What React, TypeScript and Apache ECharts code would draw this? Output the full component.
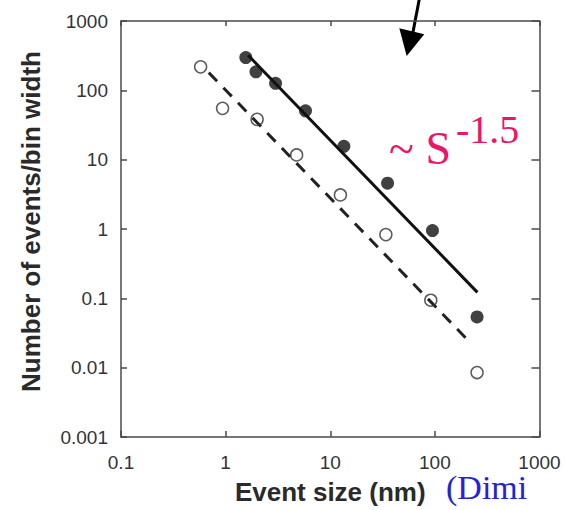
import React, { useEffect, useRef } from "react";
import * as echarts from "echarts";

// Tick labels
const xTickLabels = ["0.1", "1", "10", "100", "1000"];
const yTickLabels = ["0.001", "0.01", "0.1", "1", "10", "100", "1000"];

// Filled circles (event size nm, events/bin width)
const filledSize = [1.56, 1.95, 3.0, 5.8, 13.5, 35.3, 94.8, 253];
const filledCount = [297, 185, 126, 50.7, 15.6, 4.57, 0.95, 0.054];

// Open circles
const openSize = [0.577, 0.935, 2.0, 4.77, 12.5, 34.0, 91.4, 253];
const openCount = [218, 55, 38.1, 11.7, 3.1, 0.83, 0.094, 0.0085];

// Power-law fit lines (end points)
const solidFitSize = [1.64, 255];
const solidFitCount = [321, 0.122];
const dashedFitSize = [0.69, 212];
const dashedFitCount = [180, 0.024];

const pairs = (xs: number[], ys: number[]) => xs.map((x, i) => [x, ys[i]]);

const labelFor = (labels: string[], minExp: number) => (v: number) => {
  const i = Math.round(Math.log10(v)) - minExp;
  return labels[i] ?? "";
};

export default function App() {
  const ref = useRef<HTMLDivElement>(null);

  useEffect(() => {
    if (!ref.current) return;
    const chart = echarts.init(ref.current, null, { renderer: "svg" });
    const axisColor = "#4a4a4a";
    const tickFont = {
      fontFamily: "'Liberation Sans', Arial, sans-serif",
      fontSize: 19,
      color: "#333",
    };
    const nameFont = {
      fontFamily: "'Liberation Sans', Arial, sans-serif",
      fontSize: 26,
      fontWeight: "bold" as const,
      color: "#2a2a2a",
    };
    const commonAxis = {
      type: "log" as const,
      logBase: 10,
      axisLine: { show: true, lineStyle: { color: axisColor, width: 1.5 } },
      axisTick: { show: true, inside: true, length: 6, lineStyle: { color: axisColor, width: 1.5 } },
      splitLine: { show: false },
      minorTick: { show: false },
    };
    chart.setOption({
      animation: false,
      backgroundColor: "#fff",
      grid: { left: 121, top: 21, width: 418.5, height: 417, containLabel: false },
      xAxis: [
        {
          ...commonAxis,
          min: 0.1,
          max: 1000,
          position: "bottom",
          axisLabel: { ...tickFont, margin: 16, formatter: labelFor(xTickLabels, -1) },
          name: "Event size (nm)",
          nameLocation: "middle",
          nameGap: 42,
          nameTextStyle: nameFont,
        },
        {
          ...commonAxis,
          min: 0.1,
          max: 1000,
          position: "top",
          axisLabel: { show: false },
          axisTick: { ...commonAxis.axisTick, length: 5 },
        },
      ],
      yAxis: [
        {
          ...commonAxis,
          min: 0.001,
          max: 1000,
          position: "left",
          axisLabel: { ...tickFont, margin: 13, formatter: labelFor(yTickLabels, -3) },
          name: "Number of events/bin width",
          nameLocation: "middle",
          nameGap: 77,
          nameTextStyle: { ...nameFont, padding: [0, 0, 0, 15] },
        },
        {
          ...commonAxis,
          min: 0.001,
          max: 1000,
          position: "right",
          axisLabel: { show: false },
          axisTick: { ...commonAxis.axisTick, length: 8 },
        },
      ],
      series: [
        {
          type: "line",
          data: pairs(solidFitSize, solidFitCount),
          symbol: "none",
          lineStyle: { color: "#111", width: 3 },
          z: 3,
        },
        {
          type: "line",
          data: pairs(dashedFitSize, dashedFitCount),
          symbol: "none",
          lineStyle: { color: "#222", width: 3, type: [12, 9] },
          z: 3,
        },
        {
          type: "scatter",
          data: pairs(filledSize, filledCount),
          symbol: "circle",
          symbolSize: 13,
          itemStyle: { color: "#111" },
          z: 4,
        },
        {
          type: "scatter",
          data: pairs(openSize, openCount),
          symbol: "circle",
          symbolSize: 12,
          itemStyle: { color: "rgba(255,255,255,0)", borderColor: "#333", borderWidth: 1.5 },
          z: 4,
        },
      ],
      graphic: [
        {
          type: "line",
          shape: { x1: 419.5, y1: -2, x2: 413, y2: 32 },
          style: { stroke: "#000", lineWidth: 3 },
        },
        {
          type: "polygon",
          shape: { points: [[399.3, 28.3], [424.3, 34.3], [406.7, 56]] },
          style: { fill: "#000" },
        },
        {
          type: "text",
          x: 389,
          y: 148.5,
          style: {
            text: "~ S",
            fontFamily: "'Liberation Serif', 'Times New Roman', serif",
            fontSize: 46,
            fill: "#EE1466",
            align: "left",
            verticalAlign: "middle",
          },
        },
        {
          type: "text",
          x: 456,
          y: 129.8,
          style: {
            text: "-1.5",
            fontFamily: "'Liberation Serif', 'Times New Roman', serif",
            fontSize: 40,
            fill: "#EE1466",
            align: "left",
            verticalAlign: "middle",
          },
        },
        {
          type: "text",
          x: 446,
          y: 487,
          style: {
            text: "(Dimi",
            fontFamily: "'Liberation Serif', 'Times New Roman', serif",
            fontSize: 34,
            lineHeight: 34,
            fill: "#2424D0",
            align: "left",
            verticalAlign: "middle",
          },
        },
      ],
    });
    return () => chart.dispose();
  }, []);

  return (
    <div
      ref={ref}
      style={{ position: "absolute", left: 0, top: 0, width: 565, height: 510 }}
    />
  );
}
